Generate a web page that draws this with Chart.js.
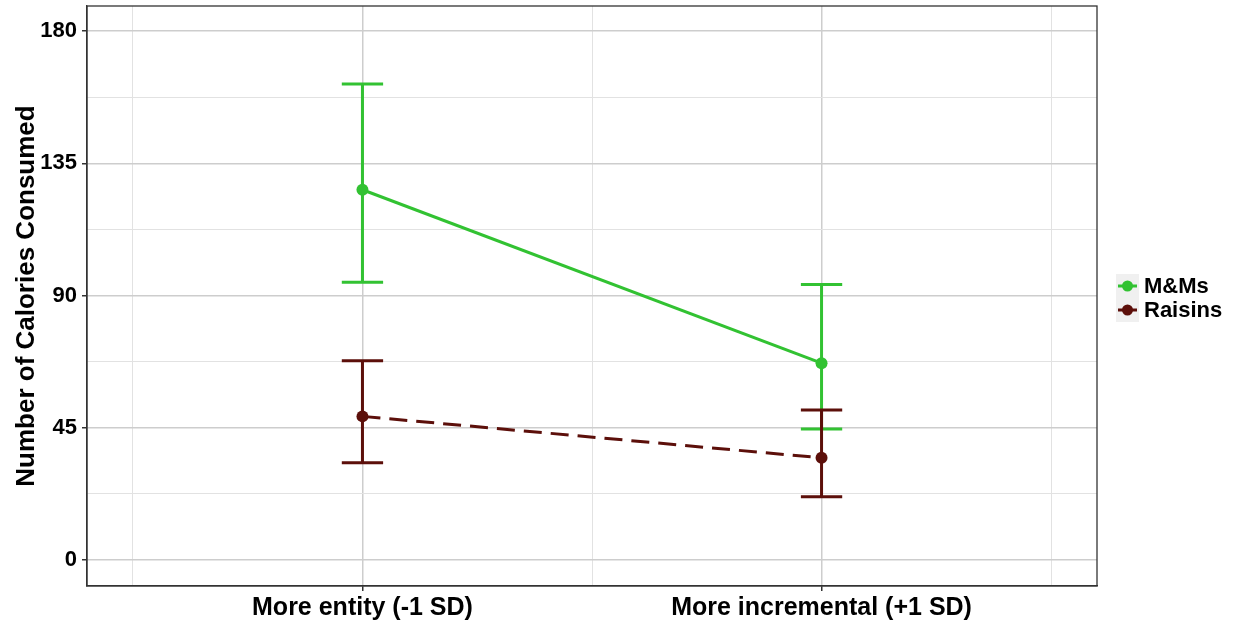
<!DOCTYPE html>
<html>
<head>
<meta charset="utf-8">
<script src="https://cdn.jsdelivr.net/npm/chart.js"></script>
<style>
  html, body { margin: 0; padding: 0; background: #fff; }
  #wrap { width: 1236px; height: 624px; position: relative; }
</style>
</head>
<body>
<div id="wrap"><canvas id="chart"></canvas></div>
<script>
// data
const categories = ['More entity (-1 SD)', 'More incremental (+1 SD)'];
const seriesNames = ['M&Ms', 'Raisins'];
const mmMean = [126, 67];
const mmLow = [94.5, 44.6];
const mmHigh = [162, 93.8];
const raisinMean = [48.9, 34.8];
const raisinLow = [33.1, 21.6];
const raisinHigh = [67.8, 51.1];
const yTicks = [0, 45, 90, 135, 180];

const green = '#32c232';
const darkRed = '#5c0f0a';
const font = "'Liberation Sans', Arial, sans-serif";

const toPoints = arr => arr.map((v, i) => ({ x: i + 1, y: v }));

const errorBars = [
  { low: mmLow, high: mmHigh, color: green },
  { low: raisinLow, high: raisinHigh, color: darkRed }
];

const errorBarPlugin = {
  id: 'errorBars',
  beforeDatasetsDraw(chart) {
    const { ctx, scales: { x, y } } = chart;
    ctx.save();
    ctx.lineWidth = 3;
    errorBars.forEach(eb => {
      ctx.strokeStyle = eb.color;
      eb.low.forEach((lo, i) => {
        const px = x.getPixelForValue(i + 1);
        const y0 = y.getPixelForValue(lo);
        const y1 = y.getPixelForValue(eb.high[i]);
        const half = x.getPixelForValue(i + 1.045) - px;
        ctx.beginPath();
        ctx.moveTo(px, y0); ctx.lineTo(px, y1);
        ctx.moveTo(px - half, y0); ctx.lineTo(px + half, y0);
        ctx.moveTo(px - half, y1); ctx.lineTo(px + half, y1);
        ctx.stroke();
      });
    });
    ctx.restore();
  }
};

const framePlugin = {
  id: 'frame',
  afterDraw(chart) {
    const { ctx, chartArea: a } = chart;
    ctx.save();
    ctx.strokeStyle = '#333';
    ctx.lineWidth = 1.3;
    ctx.strokeRect(a.left, a.top, a.right - a.left, a.bottom - a.top);

    // legend on the right
    const colors = [green, darkRed];
    const kx = 1116, ky = 274, ks = 24;
    colors.forEach((c, i) => {
      const top = ky + i * ks;
      ctx.fillStyle = '#f0f0f0';
      ctx.fillRect(kx, top, 23, ks);
      ctx.strokeStyle = c;
      ctx.lineWidth = 3;
      ctx.beginPath();
      ctx.moveTo(kx + 2, top + ks / 2);
      ctx.lineTo(kx + 21, top + ks / 2);
      ctx.stroke();
      ctx.fillStyle = c;
      ctx.beginPath();
      ctx.arc(kx + 11.5, top + ks / 2, 5.5, 0, Math.PI * 2);
      ctx.fill();
      ctx.fillStyle = '#000';
      ctx.font = 'bold 22px ' + font;
      ctx.textBaseline = 'middle';
      ctx.fillText(seriesNames[i], kx + 28, top + ks / 2 + 1);
    });
    ctx.restore();
  }
};

const gridColor = c => (Number.isInteger(c.tick.value / (c.scale.axis === 'y' ? 45 : 1)) ? '#cdcdcd' : '#e2e2e2');

new Chart(document.getElementById('chart'), {
  type: 'line',
  data: {
    datasets: [
      {
        label: seriesNames[0],
        data: toPoints(mmMean),
        borderColor: green,
        backgroundColor: green,
        borderWidth: 3,
        pointRadius: 6,
        pointBorderWidth: 0
      },
      {
        label: seriesNames[1],
        data: toPoints(raisinMean),
        borderColor: darkRed,
        backgroundColor: darkRed,
        borderWidth: 3,
        borderDash: [18, 9],
        pointRadius: 6,
        pointBorderWidth: 0
      }
    ]
  },
  options: {
    responsive: true,
    maintainAspectRatio: false,
    animation: false,
    layout: { padding: { top: 5, right: 139, bottom: 0, left: 0 } },
    plugins: { legend: { display: false }, tooltip: { enabled: false } },
    scales: {
      x: {
        type: 'linear',
        min: 0.4,
        max: 2.6,
        afterBuildTicks: s => { s.ticks = [0.5, 1, 1.5, 2, 2.5].map(v => ({ value: v })); },
        afterFit: s => { s.height = 38; s.paddingLeft = 0; s.paddingRight = 0; },
        ticks: {
          autoSkip: false,
          maxRotation: 0,
          padding: 2,
          color: '#000',
          font: { family: font, size: 25, weight: 'bold' },
          callback: v => (Number.isInteger(v) ? categories[v - 1] : '')
        },
        grid: {
          color: gridColor,
          lineWidth: c => (Number.isInteger(c.tick.value) ? 1.5 : 1),
          tickLength: 5,
          tickColor: c => (Number.isInteger(c.tick.value) ? '#333' : 'rgba(0,0,0,0)')
        },
        border: { color: '#333', width: 1.3 }
      },
      y: {
        min: -8.8,
        max: 188.5,
        afterBuildTicks: s => {
          const t = [];
          yTicks.forEach((v, i) => { t.push({ value: v }); if (i < yTicks.length - 1) t.push({ value: v + 22.5 }); });
          s.ticks = t;
        },
        afterFit: s => { s.width = 87; s.paddingTop = 0; s.paddingBottom = 0; },
        title: {
          display: true,
          text: 'Number of Calories Consumed',
          color: '#000',
          font: { family: font, size: 26, weight: 'bold' },
          padding: { top: 11, bottom: 0 }
        },
        ticks: {
          padding: 5,
          color: '#000',
          font: { family: font, size: 22, weight: 'bold' },
          callback: v => (yTicks.includes(v) ? v : '')
        },
        grid: {
          color: gridColor,
          lineWidth: c => (yTicks.includes(c.tick.value) ? 1.5 : 1),
          tickLength: 5,
          tickColor: c => (yTicks.includes(c.tick.value) ? '#333' : 'rgba(0,0,0,0)')
        },
        border: { color: '#333', width: 1.3 }
      }
    }
  },
  plugins: [errorBarPlugin, framePlugin]
});
</script>
</body>
</html>
